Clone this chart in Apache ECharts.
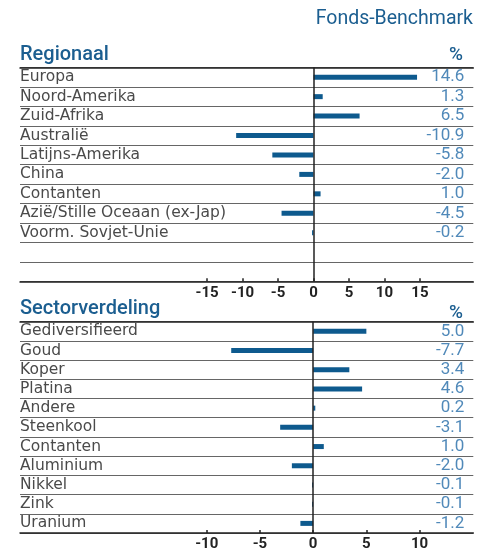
<!DOCTYPE html>
<html><head><meta charset="utf-8">
<script src="https://cdn.jsdelivr.net/npm/echarts@6/dist/echarts.min.js"></script>
<style>html,body{margin:0;padding:0;background:#fff}#c{width:489px;height:552px}</style>
</head><body><div id="c"></div>
<script>
const regionCategories = ['Europa','Noord-Amerika','Zuid-Afrika','Australië','Latijns-Amerika','China','Contanten','Azië/Stille Oceaan (ex-Jap)','Voorm. Sovjet-Unie',' ','  '];
const regionValues = [14.6, 1.3, 6.5, -10.9, -5.8, -2.0, 1.0, -4.5, -0.2, null, null];
const sectorCategories = ['Gediversifieerd','Goud','Koper','Platina','Andere','Steenkool','Contanten','Aluminium','Nikkel','Zink','Uranium'];
const sectorValues = [5.0, -7.7, 3.4, 4.6, 0.2, -3.1, 1.0, -2.0, -0.1, -0.1, -1.2];
const regionTicks = [-15, -10, -5, 0, 5, 10, 15];
const sectorTicks = [-10, -5, 0, 5, 10];

const FONT = 'Roboto';
const CATFONT = 'DejaVu Sans';
const BLUE = '#1b5e90';
const BAR = '#0e5a8e';
const VAL = '#5089b9';
const TXT = '#4a4a4a';

function fmt(v){ return v == null ? '' : v.toFixed(1); }

const grids = [
  {left: 20, right: 15.7, top: 67.5, height: 213.8},
  {left: 20, right: 15.7, top: 321.7, height: 213.6}
];
const ranges = [{min: -41.37, max: 22.53, ticks: regionTicks}, {min: -27.55, max: 15.05, ticks: sectorTicks}];
const cats = [regionCategories, sectorCategories];
const vals = [regionValues, sectorValues];

const xAxis = [], yAxis = [], series = [];
[0,1].forEach(i => {
  xAxis.push({
    type: 'value', gridIndex: i, min: ranges[i].min, max: ranges[i].max, position: 'bottom',
    axisLine: {show: true, lineStyle: {color: '#222', width: 1.5}},
    axisTick: {show: true, inside: true, length: 3, customValues: ranges[i].ticks, lineStyle: {color: '#222', width: 1.5}},
    axisLabel: {customValues: ranges[i].ticks, color: '#222', fontFamily: FONT, fontSize: 15, fontWeight: 'bold', margin: 4},
    splitLine: {show: false}
  });
  xAxis.push({
    type: 'value', gridIndex: i, min: ranges[i].min, max: ranges[i].max, position: 'top',
    axisLine: {show: true, lineStyle: {color: '#222', width: 1.5}},
    axisTick: {show: false}, axisLabel: {show: false}, splitLine: {show: false}
  });
  yAxis.push({
    type: 'category', gridIndex: i, data: cats[i], inverse: true, position: 'left',
    axisLine: {show: false}, axisTick: {show: false},
    axisLabel: {interval: 0, inside: true, margin: 0, color: TXT, fontFamily: CATFONT, fontSize: 15.5, lineHeight: 16},
    splitLine: {show: true, interval: 0, lineStyle: {color: '#666', width: 1}}
  });
  yAxis.push({
    type: 'category', gridIndex: i, data: vals[i].map(fmt), inverse: true, position: 'right',
    axisLine: {show: false}, axisTick: {show: false},
    axisLabel: {interval: 0, inside: true, margin: 9, color: VAL, fontFamily: FONT, fontSize: 17, lineHeight: 17},
    splitLine: {show: false}
  });
  series.push({
    type: 'bar', xAxisIndex: i*2, yAxisIndex: i*2, data: vals[i], barWidth: 5,
    itemStyle: {color: BAR}, silent: true,
    markLine: {silent: true, symbol: 'none', label: {show: false},
      lineStyle: {color: '#222', width: 1.5, type: 'solid'}, data: [{xAxis: 0}]}
  });
});

const chart = echarts.init(document.getElementById('c'));
chart.setOption({
  animation: false,
  title: [
    {text: 'Fonds-Benchmark', right: 16, top: 9, padding: 0, textStyle: {color: BLUE, fontFamily: FONT, fontSize: 19.5, fontWeight: 'normal'}},
    {text: 'Regionaal', left: 20, top: 45, padding: 0, textStyle: {color: BLUE, fontFamily: FONT, fontSize: 20, fontWeight: 500}},
    {text: '%', right: 26, top: 46, padding: 0, textStyle: {color: BLUE, fontFamily: FONT, fontSize: 19, fontWeight: 500}},
    {text: 'Sectorverdeling', left: 20, top: 299, padding: 0, textStyle: {color: BLUE, fontFamily: FONT, fontSize: 20, fontWeight: 500}},
    {text: '%', right: 26, top: 304, padding: 0, textStyle: {color: BLUE, fontFamily: FONT, fontSize: 19, fontWeight: 500}}
  ],
  grid: grids,
  xAxis, yAxis, series
});
</script></body></html>
